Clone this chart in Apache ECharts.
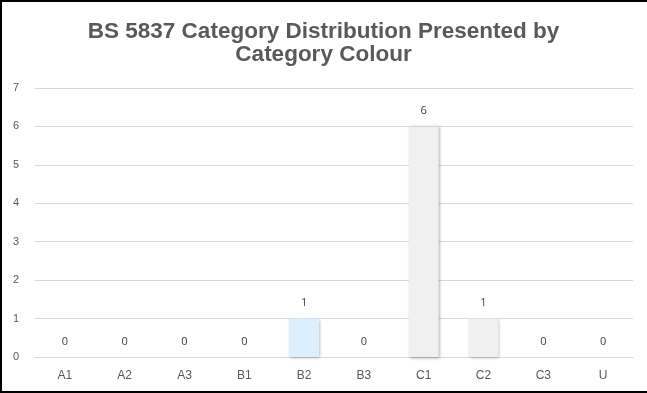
<!DOCTYPE html>
<html>
<head>
<meta charset="utf-8">
<script src="https://cdn.jsdelivr.net/npm/echarts@6/dist/echarts.min.js"></script>
<style>
  html, body { margin: 0; padding: 0; background: #fff; }
  #chart { width: 647px; height: 393px; }
</style>
</head>
<body>
<div id="chart"></div>
<script>
// BS 5837 tree categories and the number of trees in each
const categories = ['A1', 'A2', 'A3', 'B1', 'B2', 'B3', 'C1', 'C2', 'C3', 'U'];
const counts = [0, 0, 0, 0, 1, 0, 6, 1, 0, 0];
// fill colour of each category's bar
const barColours = ['#c6e0b4', '#c6e0b4', '#c6e0b4', '#ddeeff', '#ddeeff', '#ddeeff', '#f0f0f0', '#f0f0f0', '#f0f0f0', '#f4cccc'];
const yTicks = [0, 1, 2, 3, 4, 5, 6, 7];

const chart = echarts.init(document.getElementById('chart'), null, { renderer: 'canvas' });

chart.setOption({
  animation: false,
  backgroundColor: '#ffffff',
  title: {
    text: 'BS 5837 Category Distribution Presented by\nCategory Colour',
    left: 'center',
    top: 15,
    textStyle: {
      fontFamily: 'Liberation Sans, Arial, sans-serif',
      fontSize: 22.5,
      fontWeight: 'bold',
      color: '#595959',
      lineHeight: 23
    }
  },
  grid: { left: 35, right: 14, top: 88, bottom: 36, containLabel: false },
  xAxis: {
    type: 'category',
    data: categories,
    axisLine: { show: true, lineStyle: { color: '#d9d9d9', width: 1 } },
    axisTick: { show: false },
    axisLabel: {
      color: '#595959',
      fontFamily: 'Liberation Sans, Arial, sans-serif',
      fontSize: 12,
      margin: 13
    }
  },
  yAxis: {
    type: 'value',
    min: yTicks[0],
    max: yTicks[yTicks.length - 1],
    interval: 1,
    axisLine: { show: false },
    axisTick: { show: false },
    splitLine: { show: true, lineStyle: { color: '#d9d9d9', width: 1 } },
    axisLabel: {
      color: '#595959',
      fontFamily: 'Liberation Sans, Arial, sans-serif',
      fontSize: 11,
      margin: 16
    }
  },
  series: [{
    type: 'bar',
    data: counts.map((v, i) => ({ value: v, itemStyle: { color: barColours[i] } })),
    barWidth: '50%',
    itemStyle: {
      shadowBlur: 3,
      shadowColor: 'rgba(0,0,0,0.35)',
      shadowOffsetX: 1,
      shadowOffsetY: 1
    },
    label: {
      show: true,
      position: 'top',
      distance: 10,
      color: '#404040',
      fontFamily: 'Open Sans, Liberation Sans, sans-serif',
      fontSize: 11
    }
  }],
  graphic: [
    { type: 'rect', shape: { x: 0, y: 0, width: 647, height: 2 }, style: { fill: '#000' }, silent: true },
    { type: 'rect', shape: { x: 0, y: 0, width: 2, height: 393 }, style: { fill: '#000' }, silent: true },
    { type: 'rect', shape: { x: 0, y: 391, width: 647, height: 2 }, style: { fill: '#000' }, silent: true }
  ]
});
</script>
</body>
</html>
